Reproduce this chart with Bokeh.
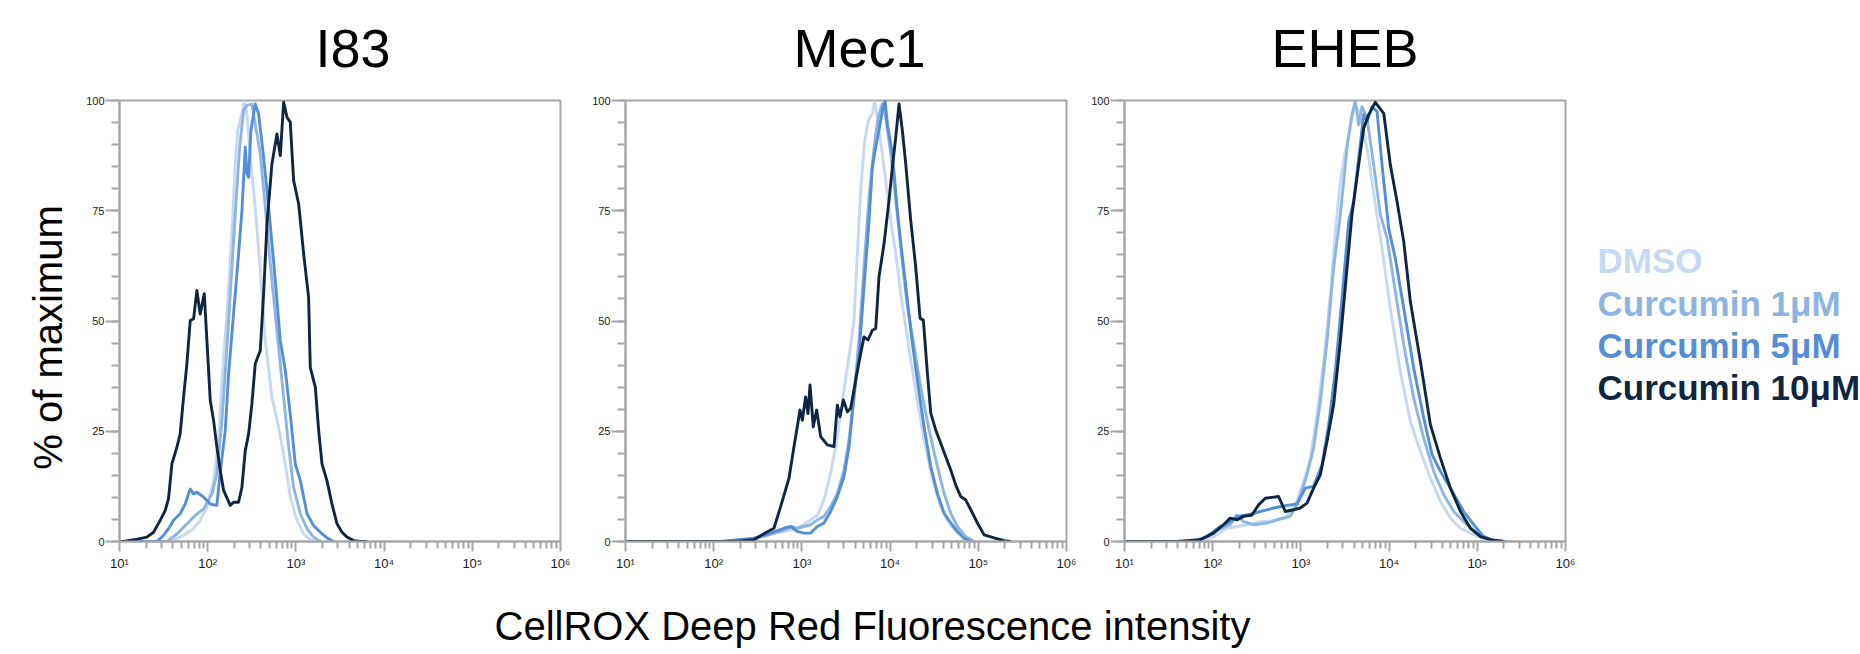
import numpy as np
from bokeh.plotting import figure
from bokeh.models import Range1d, FixedTicker, ColumnDataSource
from bokeh.layouts import row, column
from bokeh.embed import file_html
from bokeh.resources import INLINE
from bokeh.core.properties import value

# ---------------- data ----------------
PANELS = ["I83", "Mec1", "EHEB"]
SERIES = ["DMSO", "Curcumin 1μM", "Curcumin 5μM", "Curcumin 10μM"]
COLORS = ["#C6D9F1", "#8EB4E3", "#558ED5", "#10253F"]
X_TICKS = [10, 100, 1000, 10000, 100000, 1000000]
X_TICK_LABELS = ["10¹", "10²", "10³", "10⁴", "10⁵", "10⁶"]
Y_TICKS = [0, 25, 50, 75, 100]
X_LABEL = "CellROX Deep Red Fluorescence intensity"
Y_LABEL = "% of maximum"

# x values are log10(intensity), y values are % of maximum
I83_DMSO_LOGX = [1.0, 1.575, 1.726, 1.840, 1.915, 1.991, 2.067, 2.123, 2.161, 2.218, 2.275, 2.312, 2.339, 2.388, 2.415, 2.445, 2.483, 2.539, 2.596, 2.653, 2.728, 2.804, 2.880, 2.936, 3.012, 3.088, 3.163, 3.239]
I83_DMSO_Y = [0, 0, 1.4, 2.9, 4.8, 7.8, 13.8, 22.9, 36.5, 51.6, 70.5, 85.6, 93.2, 97.0, 100, 97.0, 87.1, 75.8, 61.4, 45.6, 32.7, 25.9, 17.6, 10.1, 4.8, 1.7, 0.4, 0]
I83_C1_LOGX = [1.0, 1.537, 1.651, 1.764, 1.859, 1.953, 2.048, 2.104, 2.161, 2.218, 2.275, 2.312, 2.362, 2.407, 2.445, 2.501, 2.539, 2.596, 2.653, 2.710, 2.785, 2.861, 2.918, 2.974, 3.050, 3.126, 3.201, 3.277]
I83_C1_Y = [0, 0, 1.7, 4.0, 5.9, 7.4, 10.8, 15.3, 27.4, 44.0, 62.2, 74.3, 89.4, 97.7, 98.9, 99.2, 94.7, 87.9, 75.8, 63.0, 47.8, 32.7, 21.4, 12.3, 6.3, 2.9, 1.0, 0]
I83_C5_LOGX = [1.0, 1.424, 1.499, 1.556, 1.613, 1.688, 1.745, 1.802, 1.840, 1.877, 1.953, 2.029, 2.104, 2.142, 2.199, 2.237, 2.293, 2.350, 2.388, 2.426, 2.445, 2.464, 2.490, 2.539, 2.577, 2.634, 2.691, 2.766, 2.823, 2.880, 2.936, 2.993, 3.050, 3.126, 3.201, 3.277, 3.353, 3.428]
I83_C5_Y = [0, 0, 1.4, 2.9, 4.8, 6.3, 8.5, 11.9, 10.8, 11.2, 10.1, 8.5, 8.2, 15.7, 25.2, 38.0, 51.6, 65.2, 75.0, 89.4, 83.4, 82.6, 93.2, 99.2, 97.0, 87.1, 75.8, 59.2, 45.6, 38.8, 28.9, 17.6, 13.8, 6.3, 3.6, 2.1, 0.8, 0]
I83_C10_LOGX = [1.0, 1.045, 1.216, 1.310, 1.386, 1.461, 1.518, 1.556, 1.594, 1.651, 1.688, 1.726, 1.764, 1.802, 1.840, 1.877, 1.915, 1.961, 1.991, 2.029, 2.067, 2.104, 2.142, 2.180, 2.256, 2.293, 2.350, 2.388, 2.426, 2.464, 2.501, 2.539, 2.596, 2.634, 2.672, 2.728, 2.785, 2.823, 2.861, 2.899, 2.936, 2.974, 3.031, 3.088, 3.144, 3.163, 3.220, 3.258, 3.296, 3.352, 3.409, 3.466, 3.523, 3.579, 3.655, 3.731, 3.800]
I83_C10_Y = [0, 0, 0.6, 1.0, 2.1, 4.8, 7.0, 9.7, 17.6, 21.4, 24.4, 32.7, 40.3, 50.1, 50.5, 56.9, 51.6, 56.2, 45.6, 32.0, 27.4, 21.4, 16.1, 11.6, 8.2, 8.9, 8.9, 12.3, 20.6, 24.4, 31.2, 40.3, 43.3, 56.2, 72.0, 85.6, 92.4, 87.5, 99.6, 96.2, 95.1, 81.9, 76.6, 65.2, 55.4, 39.5, 35.0, 25.2, 17.6, 13.8, 8.5, 4.0, 2.1, 1.0, 0.2, 0, 0]

MEC1_DMSO_LOGX = [1.0, 2.191, 2.494, 2.721, 2.872, 2.986, 3.099, 3.175, 3.250, 3.326, 3.402, 3.477, 3.534, 3.591, 3.629, 3.666, 3.712, 3.753, 3.799, 3.825, 3.856, 3.901, 3.950, 4.007, 4.064, 4.120, 4.177, 4.234, 4.309, 4.385, 4.480, 4.574, 4.669, 4.763, 4.858, 4.915]
MEC1_DMSO_Y = [0, 0, 0.75, 2.0, 2.6, 3.4, 4.9, 6.0, 9.4, 15.5, 23.8, 34.3, 41.9, 50.2, 65.3, 79.6, 90.9, 95.5, 97.0, 100, 95.5, 89.4, 81.9, 72.8, 65.3, 56.2, 48.7, 41.1, 32.1, 23.0, 14.0, 7.9, 4.2, 1.9, 0.4, 0]
MEC1_C1_LOGX = [1.0, 2.154, 2.456, 2.645, 2.797, 2.891, 2.948, 3.023, 3.099, 3.175, 3.250, 3.326, 3.402, 3.477, 3.534, 3.591, 3.648, 3.704, 3.761, 3.799, 3.837, 3.874, 3.912, 3.950, 4.007, 4.064, 4.120, 4.196, 4.272, 4.347, 4.442, 4.536, 4.612, 4.688, 4.763, 4.858, 4.952]
MEC1_C1_Y = [0, 0, 0.5, 1.7, 2.6, 3.4, 3.0, 3.4, 3.8, 4.9, 5.7, 7.9, 10.9, 16.2, 23.0, 33.6, 45.7, 62.3, 78.1, 85.7, 92.5, 97.0, 99.2, 96.2, 87.9, 77.4, 66.8, 53.2, 44.2, 35.1, 25.3, 17.0, 10.9, 6.4, 3.4, 1.1, 0]
MEC1_C5_LOGX = [1.0, 2.078, 2.456, 2.645, 2.797, 2.872, 2.948, 3.023, 3.099, 3.175, 3.250, 3.326, 3.402, 3.477, 3.534, 3.591, 3.648, 3.704, 3.761, 3.799, 3.837, 3.874, 3.912, 3.943, 3.969, 4.026, 4.082, 4.139, 4.196, 4.253, 4.309, 4.385, 4.461, 4.536, 4.612, 4.688, 4.763, 4.839, 4.915]
MEC1_C5_Y = [0, 0, 0.75, 1.9, 3.0, 3.4, 2.3, 1.9, 1.9, 3.4, 4.2, 6.8, 10.2, 14.7, 21.5, 32.8, 42.6, 57.7, 72.8, 84.9, 89.4, 93.2, 97.7, 100, 94.7, 87.9, 75.1, 64.5, 54.7, 44.9, 36.6, 26.0, 17.0, 10.9, 6.4, 4.2, 2.3, 0.75, 0]
MEC1_C10_LOGX = [1.0, 2.267, 2.456, 2.589, 2.683, 2.759, 2.853, 2.910, 2.948, 2.978, 3.005, 3.042, 3.069, 3.092, 3.129, 3.167, 3.213, 3.288, 3.364, 3.402, 3.432, 3.470, 3.516, 3.553, 3.610, 3.666, 3.704, 3.750, 3.799, 3.837, 3.874, 3.931, 3.988, 4.026, 4.064, 4.101, 4.139, 4.177, 4.234, 4.290, 4.340, 4.377, 4.423, 4.461, 4.517, 4.574, 4.631, 4.688, 4.744, 4.801, 4.858, 4.915, 4.990, 5.066, 5.179, 5.293, 5.368]
MEC1_C10_Y = [0, 0, 0.4, 2.0, 3.0, 7.9, 14.3, 21.5, 26.0, 29.8, 27.5, 32.8, 29.0, 35.5, 26.0, 29.8, 23.8, 21.9, 21.5, 30.9, 28.3, 32.1, 29.4, 30.2, 36.6, 42.6, 46.4, 45.7, 47.9, 48.3, 60.0, 67.5, 77.4, 84.9, 91.7, 99.2, 93.2, 85.7, 72.8, 62.3, 50.6, 50.2, 38.1, 29.1, 25.3, 22.3, 19.2, 16.2, 12.8, 10.2, 9.4, 7.2, 4.2, 1.5, 0.8, 0.2, 0]

EHEB_DMSO_LOGX = [1.0, 1.859, 2.010, 2.161, 2.275, 2.388, 2.539, 2.691, 2.842, 2.955, 3.031, 3.107, 3.182, 3.258, 3.334, 3.390, 3.447, 3.523, 3.579, 3.610, 3.655, 3.712, 3.769, 3.844, 3.920, 4.014, 4.128, 4.241, 4.355, 4.468, 4.582, 4.695, 4.809, 4.922, 5.036, 5.149, 5.338]
EHEB_DMSO_Y = [0, 0, 1.1, 3.0, 3.4, 3.8, 4.5, 4.7, 5.7, 9.1, 13.6, 18.9, 28.7, 40.8, 55.9, 70.3, 81.6, 90.7, 96.0, 99.6, 97.5, 93.0, 86.9, 76.3, 66.5, 52.9, 38.5, 27.2, 20.4, 14.4, 9.1, 5.3, 3.0, 1.9, 0.9, 0.2, 0]
EHEB_C1_LOGX = [1.0, 1.745, 1.896, 2.048, 2.199, 2.275, 2.350, 2.464, 2.615, 2.766, 2.880, 2.974, 3.069, 3.144, 3.220, 3.296, 3.371, 3.447, 3.523, 3.579, 3.617, 3.655, 3.693, 3.750, 3.825, 3.901, 3.977, 4.052, 4.166, 4.279, 4.393, 4.506, 4.620, 4.733, 4.846, 4.960, 5.073, 5.187, 5.338]
EHEB_C1_Y = [0, 0, 0.8, 2.6, 3.8, 6.0, 4.5, 3.8, 4.2, 5.1, 5.7, 9.1, 15.1, 21.2, 31.7, 45.4, 62.0, 74.1, 89.2, 96.8, 99.8, 94.5, 98.6, 96.0, 85.4, 74.1, 68.8, 59.0, 44.6, 32.5, 23.4, 15.9, 10.6, 6.8, 4.5, 2.6, 1.1, 0.2, 0]
EHEB_C5_LOGX = [1.0, 1.783, 1.934, 2.085, 2.199, 2.275, 2.388, 2.539, 2.691, 2.842, 2.955, 3.050, 3.144, 3.239, 3.315, 3.390, 3.466, 3.542, 3.598, 3.655, 3.712, 3.750, 3.806, 3.863, 3.920, 3.995, 4.071, 4.166, 4.279, 4.393, 4.487, 4.582, 4.695, 4.846, 4.960, 5.073, 5.187, 5.300]
EHEB_C5_Y = [0, 0, 1.1, 3.4, 4.5, 5.7, 6.0, 6.8, 7.6, 8.2, 8.5, 12.1, 12.5, 17.4, 26.5, 38.5, 55.2, 72.6, 77.1, 86.9, 96.8, 95.2, 98.6, 97.5, 85.4, 71.0, 64.2, 52.9, 39.3, 28.0, 19.7, 15.9, 12.1, 6.8, 3.8, 1.1, 0.2, 0]
EHEB_C10_LOGX = [1.0, 1.594, 1.859, 2.010, 2.123, 2.199, 2.275, 2.350, 2.445, 2.520, 2.596, 2.747, 2.823, 2.918, 2.993, 3.069, 3.144, 3.220, 3.296, 3.371, 3.447, 3.523, 3.579, 3.655, 3.712, 3.769, 3.844, 3.939, 4.014, 4.090, 4.166, 4.241, 4.355, 4.468, 4.582, 4.695, 4.809, 4.922, 5.036, 5.149, 5.300]
EHEB_C10_Y = [0, 0, 0.4, 1.9, 3.8, 5.3, 4.9, 5.7, 6.0, 8.3, 9.8, 10.2, 6.8, 7.2, 7.6, 8.7, 12.1, 15.1, 22.7, 31.0, 45.4, 62.0, 74.1, 85.4, 93.7, 96.8, 99.6, 97.1, 85.4, 77.1, 68.0, 54.4, 40.8, 26.5, 18.9, 12.1, 6.8, 3.0, 1.1, 0.4, 0]

PANEL_DATA = {
    "I83": [(I83_DMSO_LOGX, I83_DMSO_Y), (I83_C1_LOGX, I83_C1_Y), (I83_C5_LOGX, I83_C5_Y), (I83_C10_LOGX, I83_C10_Y)],
    "Mec1": [(MEC1_DMSO_LOGX, MEC1_DMSO_Y), (MEC1_C1_LOGX, MEC1_C1_Y), (MEC1_C5_LOGX, MEC1_C5_Y), (MEC1_C10_LOGX, MEC1_C10_Y)],
    "EHEB": [(EHEB_DMSO_LOGX, EHEB_DMSO_Y), (EHEB_C1_LOGX, EHEB_C1_Y), (EHEB_C5_LOGX, EHEB_C5_Y), (EHEB_C10_LOGX, EHEB_C10_Y)],
}

# ---------------- layout constants (page pixels) ----------------
FONT = "Liberation Sans"
AXIS_GREY = "#A6A6A6"
PAGE_W, PAGE_H = 1860, 654
HEAD_H = 80                 # header strip holding the panel titles
FRAME = 441
TOP = 20
BOTTOM = 44
ROW_H = TOP + FRAME + BOTTOM
ROW_BOTTOM = HEAD_H + ROW_H
XLAB_H = PAGE_H - ROW_BOTTOM
YLAB_W = 70
LEFTS = [49, 55, 48]
RIGHT = 10
SHIFT = 0.36                # rendered baseline sits this many em below the anchor
TITLE_FS, AXT_FS, LEG_FS = 54, 40, 35
TITLE_X = [315, 793, 1271]
TITLE_BASE = 67
YLAB_X, YLAB_Y = 62, 337
XLAB_X, XLAB_BASE = 494, 640
LEG_X, LEG_BASE0, LEG_STEP = 1597, 273, 42.3
LINE_W = 2.9

minor_x = [m * 10 ** d for d in range(1, 6) for m in range(2, 10)]
minor_y = list(range(0, 101, 5))


def blank(width, height, x0, y0):
    """A plain figure whose data coordinates equal page pixels."""
    f = figure(width=width, height=height, x_range=Range1d(x0, x0 + width),
               y_range=Range1d(y0 + height, y0), output_backend="svg",
               toolbar_location=None, min_border=0, title=None,
               x_axis_location=None, y_axis_location=None)
    f.frame_align = False
    f.grid.visible = False
    f.outline_line_color = None
    f.background_fill_color = "white"
    f.border_fill_color = "white"
    return f


def make_panel(i, name):
    left = LEFTS[i]
    p = figure(width=left + FRAME + RIGHT, height=ROW_H, x_axis_type="log",
               x_range=Range1d(10, 1e6), y_range=Range1d(0, 100),
               output_backend="svg", toolbar_location=None, title=None,
               min_border_left=left, min_border_right=RIGHT,
               min_border_top=TOP, min_border_bottom=BOTTOM)
    p.grid.visible = False
    p.background_fill_color = "white"
    p.border_fill_color = "white"
    p.outline_line_color = AXIS_GREY
    p.outline_line_width = 2

    for (lx, ys), col in zip(PANEL_DATA[name], COLORS):
        src = ColumnDataSource(dict(x=10 ** np.array(lx), y=ys))
        p.line("x", "y", source=src, line_color=col, line_width=LINE_W, line_join="round")

    xa = p.xaxis[0]
    xa.ticker = FixedTicker(ticks=X_TICKS, minor_ticks=minor_x)
    xa.major_label_overrides = {float(t): l for t, l in zip(X_TICKS, X_TICK_LABELS)}
    ya = p.yaxis[0]
    ya.ticker = FixedTicker(ticks=Y_TICKS, minor_ticks=minor_y)
    for ax in (xa, ya):
        ax.axis_line_color = AXIS_GREY
        ax.axis_line_width = 2
        ax.major_tick_line_color = AXIS_GREY
        ax.minor_tick_line_color = AXIS_GREY
        ax.major_tick_line_width = 2
        ax.minor_tick_line_width = 2
        ax.major_tick_in = 0
        ax.minor_tick_in = 0
        ax.major_label_text_font = FONT
        ax.major_label_text_color = "#1a1a1a"
    xa.major_tick_out = 10
    xa.minor_tick_out = 7
    xa.major_label_text_font_size = "13px"
    xa.major_label_standoff = 4
    ya.major_tick_out = 14
    ya.minor_tick_out = 8
    ya.major_label_text_font_size = "11px"
    ya.major_label_standoff = 1
    return p


panels = [make_panel(i, n) for i, n in enumerate(PANELS)]
row_w = YLAB_W + sum(p.width for p in panels)

# header with panel titles
head = blank(PAGE_W, HEAD_H, 0, 0)
head.text(x=TITLE_X, y=[TITLE_BASE - SHIFT * TITLE_FS] * len(PANELS), text=PANELS,
          text_font=value(FONT), text_font_size=f"{TITLE_FS}px", text_color="black",
          text_align="left", text_baseline="alphabetic")

# y axis title strip (rotated text: its "down" direction is +x)
ylab = blank(YLAB_W, ROW_H, 0, HEAD_H)
ylab.text(x=[YLAB_X - SHIFT * AXT_FS], y=[YLAB_Y], text=[Y_LABEL], angle=np.pi / 2,
          text_font=value(FONT), text_font_size=f"{AXT_FS}px", text_color="black",
          text_align="center", text_baseline="alphabetic")

# legend
leg = blank(PAGE_W - row_w, ROW_H, row_w, HEAD_H)
leg_src = ColumnDataSource(dict(
    x=[LEG_X] * len(SERIES),
    y=[LEG_BASE0 + LEG_STEP * k - SHIFT * LEG_FS for k in range(len(SERIES))],
    text=SERIES, color=COLORS))
leg.text("x", "y", text="text", text_color="color", source=leg_src,
         text_font=value(FONT), text_font_style="bold", text_font_size=f"{LEG_FS}px",
         text_align="left", text_baseline="alphabetic")

# x axis title strip
xl = blank(PAGE_W, XLAB_H, 0, ROW_BOTTOM)
xl.text(x=[XLAB_X], y=[XLAB_BASE - SHIFT * AXT_FS], text=[X_LABEL],
        text_font=value(FONT), text_font_size=f"{AXT_FS}px", text_color="black",
        text_align="left", text_baseline="alphabetic")

layout = column(head, row(ylab, *panels, leg), xl)
open("out.html", "w").write(file_html(layout, INLINE))
